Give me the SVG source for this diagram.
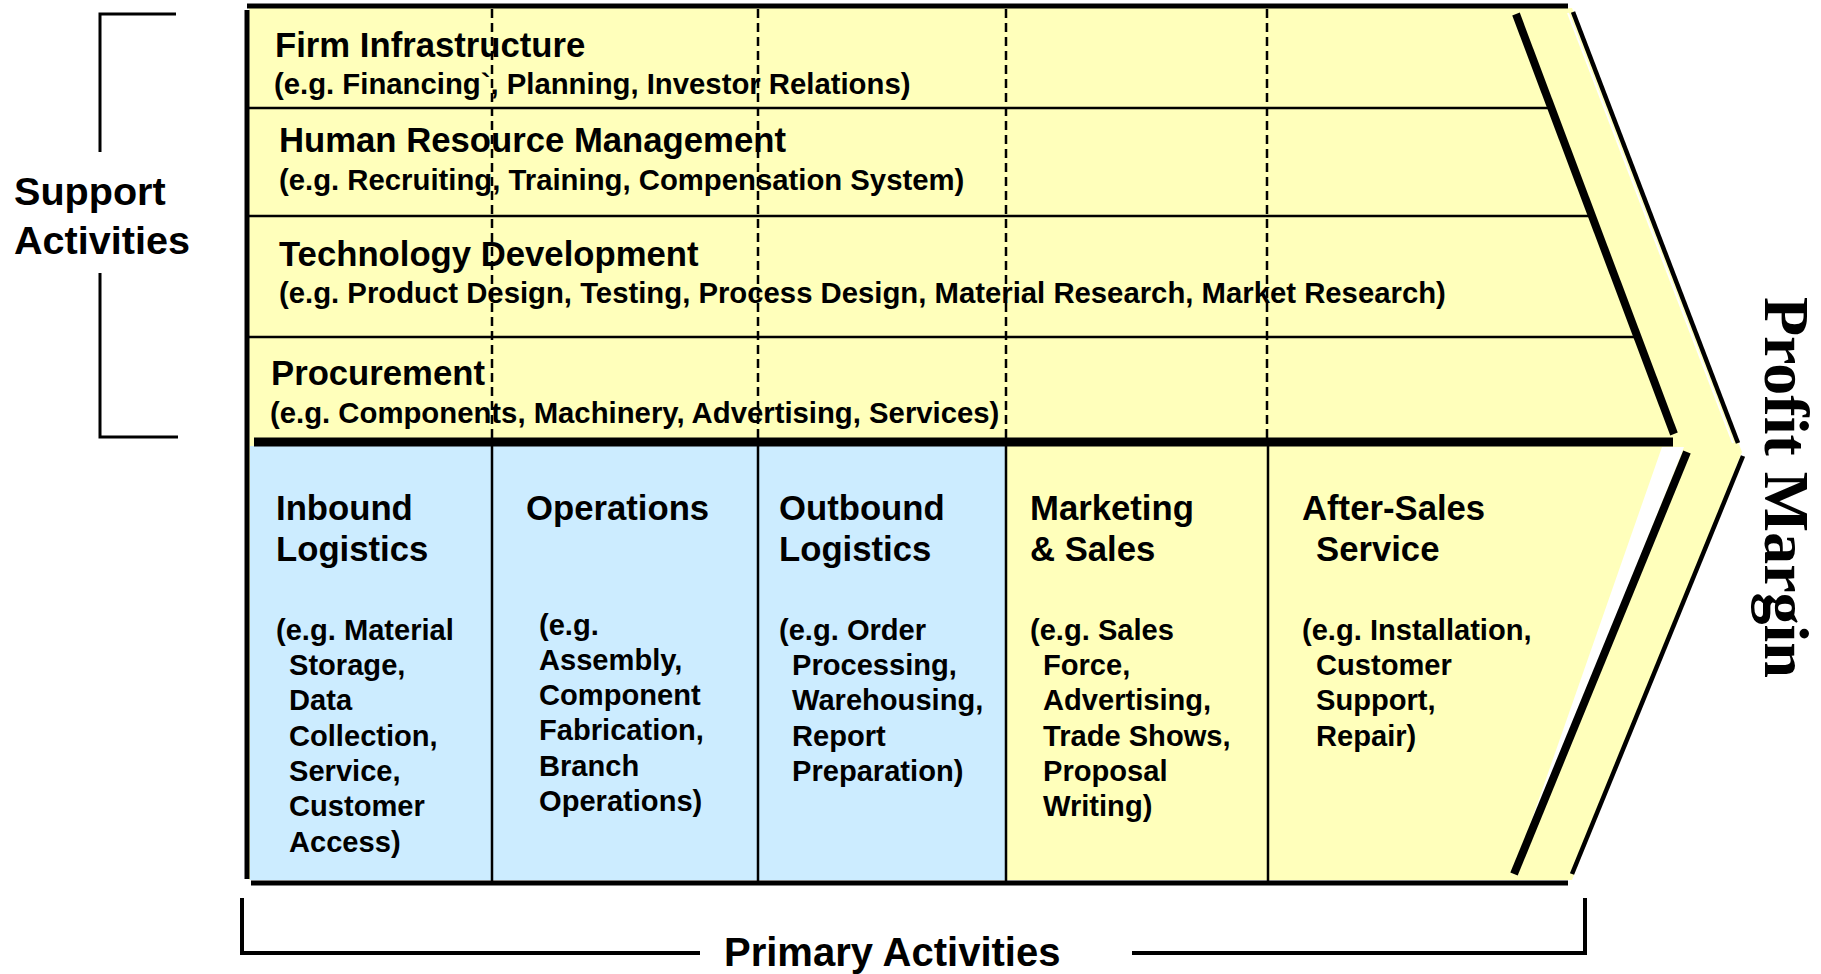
<svg xmlns="http://www.w3.org/2000/svg" width="1821" height="974" viewBox="0 0 1821 974">
<style>
text{font-family:"Liberation Sans",Arial,Helvetica,sans-serif;font-weight:bold;fill:#000}
.h{font-size:34.7px}
.s{font-size:29.3px}
.p{font-size:29.1px}
.big{font-size:39.6px}
.pm{font-family:"Liberation Serif","Times New Roman",serif;font-size:64px}
.ln{stroke:#000;fill:none}
.dash{stroke:#000;stroke-width:2.5;stroke-dasharray:9 5;fill:none}
.yel{fill:#FFFFBB}
.blu{fill:#CCECFF}
</style>
<g id="background">
<polygon class="yel" points="249,8 1572,8 1742,452 1572,880 249,880"/>
<polygon fill="#fff" points="1662,447 1684,447 1511,879"/>
<rect class="blu" x="250" y="446" width="756" height="434"/>
</g>
<g id="connectors">
<line class="ln" stroke-width="5" x1="247" y1="6" x2="1568" y2="6"/>
<line class="ln" stroke-width="5" x1="247" y1="10" x2="247" y2="879"/>
<line class="ln" stroke-width="2.5" x1="249" y1="108" x2="1553" y2="108"/>
<line class="ln" stroke-width="2.5" x1="249" y1="216" x2="1594" y2="216"/>
<line class="ln" stroke-width="2.5" x1="249" y1="337" x2="1639" y2="337"/>
<line class="dash" x1="492" y1="9" x2="492" y2="438"/>
<line class="dash" x1="758" y1="9" x2="758" y2="438"/>
<line class="dash" x1="1006" y1="9" x2="1006" y2="438"/>
<line class="dash" x1="1267" y1="9" x2="1267" y2="438"/>
<line class="ln" stroke-width="9" x1="254" y1="442" x2="1673" y2="442"/>
<line class="ln" stroke-width="2.5" x1="492" y1="446" x2="492" y2="881"/>
<line class="ln" stroke-width="2.5" x1="758" y1="446" x2="758" y2="881"/>
<line class="ln" stroke-width="2.5" x1="1006" y1="446" x2="1006" y2="881"/>
<line class="ln" stroke-width="2.5" x1="1268" y1="446" x2="1268" y2="881"/>
<line class="ln" stroke-width="5" x1="251" y1="883" x2="1568" y2="883"/>
<line class="ln" stroke-width="8" x1="1516" y1="14" x2="1674" y2="434"/>
<line class="ln" stroke-width="8" x1="1687" y1="452" x2="1514" y2="874"/>
<line stroke="#fff" stroke-width="2" x1="1568" y1="13" x2="1733" y2="443"/>
<line class="ln" stroke-width="4.5" x1="1573" y1="12" x2="1738" y2="443"/>
<line class="ln" stroke-width="4.5" x1="1743" y1="456" x2="1572" y2="874"/>
</g>
<g id="support-label">
<polyline class="ln" stroke-width="3" points="176,14 100,14 100,152"/>
<polyline class="ln" stroke-width="3" points="100,273 100,437 178,437"/>
<text class="big" x="14" y="205">Support</text>
<text class="big" x="14" y="254">Activities</text>
</g>
<g id="firm-infrastructure">
<text class="h" x="275" y="57">Firm Infrastructure</text>
<text class="s" x="274" y="94">(e.g. Financing`, Planning, Investor Relations)</text>
</g>
<g id="hrm">
<text class="h" x="279" y="152">Human Resource Management</text>
<text class="s" x="279" y="190">(e.g. Recruiting, Training, Compensation System)</text>
</g>
<g id="technology-development">
<text class="h" x="279" y="266">Technology Development</text>
<text class="s" x="279" y="303">(e.g. Product Design, Testing, Process Design, Material Research, Market Research)</text>
</g>
<g id="procurement">
<text class="h" x="271" y="385">Procurement</text>
<text class="s" x="270" y="423">(e.g. Components, Machinery, Advertising, Services)</text>
</g>
<g id="inbound-logistics">
<text class="h"><tspan x="276" y="520">Inbound</tspan><tspan x="276" y="561">Logistics</tspan></text>
<text class="p"><tspan x="276" y="640">(e.g. Material</tspan><tspan x="289" y="675">Storage,</tspan><tspan x="289" y="710">Data</tspan><tspan x="289" y="746">Collection,</tspan><tspan x="289" y="781">Service,</tspan><tspan x="289" y="816">Customer</tspan><tspan x="289" y="852">Access)</tspan></text>
</g>
<g id="operations">
<text class="h" x="526" y="520">Operations</text>
<text class="p"><tspan x="539" y="635">(e.g.</tspan><tspan x="539" y="670">Assembly,</tspan><tspan x="539" y="705">Component</tspan><tspan x="539" y="740">Fabrication,</tspan><tspan x="539" y="776">Branch</tspan><tspan x="539" y="811">Operations)</tspan></text>
</g>
<g id="outbound-logistics">
<text class="h"><tspan x="779" y="520">Outbound</tspan><tspan x="779" y="561">Logistics</tspan></text>
<text class="p"><tspan x="779" y="640">(e.g. Order</tspan><tspan x="792" y="675">Processing,</tspan><tspan x="792" y="710">Warehousing,</tspan><tspan x="792" y="746">Report</tspan><tspan x="792" y="781">Preparation)</tspan></text>
</g>
<g id="marketing-sales">
<text class="h"><tspan x="1030" y="520">Marketing</tspan><tspan x="1030" y="561">&amp; Sales</tspan></text>
<text class="p"><tspan x="1030" y="640">(e.g. Sales</tspan><tspan x="1043" y="675">Force,</tspan><tspan x="1043" y="710">Advertising,</tspan><tspan x="1043" y="746">Trade Shows,</tspan><tspan x="1043" y="781">Proposal</tspan><tspan x="1043" y="816">Writing)</tspan></text>
</g>
<g id="after-sales-service">
<text class="h"><tspan x="1302" y="520">After-Sales</tspan><tspan x="1316" y="561">Service</tspan></text>
<text class="p"><tspan x="1302" y="640">(e.g. Installation,</tspan><tspan x="1316" y="675">Customer</tspan><tspan x="1316" y="710">Support,</tspan><tspan x="1316" y="746">Repair)</tspan></text>
</g>
<g id="profit-margin">
<text class="pm" transform="translate(1765,297) rotate(90)">Profit Margin</text>
</g>
<g id="primary-label">
<polyline class="ln" stroke-width="4" points="242,898 242,953 700,953"/>
<polyline class="ln" stroke-width="4" points="1132,953 1585,953 1585,898"/>
<text x="724" y="966" style="font-size:40px">Primary Activities</text>
</g>
</svg>
